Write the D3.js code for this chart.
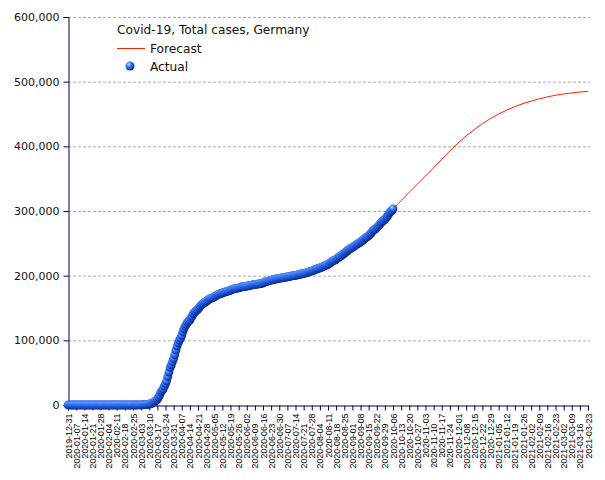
<!DOCTYPE html>
<html>
<head>
<meta charset="utf-8">
<script src="https://cdn.jsdelivr.net/npm/d3@7"></script>
<style>
  html, body { margin: 0; padding: 0; background: #fff; }
  svg { display: block; }
</style>
</head>
<body>
<svg id="chart" width="605" height="480"></svg>
<script>
// ---------- DATA ----------
const titleText = "Covid-19, Total cases, Germany";
const seriesNames = ["Forecast", "Actual"];
const startDate = "2019-12-31";
const endDate = "2021-03-23";
const yTicks = [0, 100000, 200000, 300000, 400000, 500000, 600000];

// Actual total cases, one value per day from 2019-12-31
const actual = [
  // 2019-12-31 .. 2020-01-27
  0,0,0,0,0,0,0,0,0,0,0,0,0,0,0,0,0,0,0,0,0,0,0,0,0,0,0,0,
  // 2020-01-28 .. 2020-02-29
  4,4,4,5,8,10,12,12,12,12,13,13,14,14,16,16,16,16,16,16,16,16,16,16,16,16,16,16,16,18,21,26,53,
  // March
  130,159,196,262,482,670,799,1040,1176,1457,1908,2078,3675,4585,5795,7272,9257,12327,15320,19848,
  22213,24873,29056,32986,37323,43938,50871,57695,62095,66885,71808,
  // April
  77872,84794,91159,96092,100123,103374,107663,113296,118181,122171,124908,127854,130072,131359,134753,
  137698,141397,143342,145184,147065,148291,150648,153129,154999,156513,157770,158758,159912,161539,163009,
  // May
  164077,164967,165664,166152,167007,168162,169430,170588,171324,171879,172576,173171,174098,174478,175233,
  175752,176369,176551,177778,178473,179021,179710,179986,180328,180600,181200,181524,182196,182922,183189,183410,
  // June
  183594,183879,184121,184472,184924,185414,185750,186022,186269,186506,186839,187226,187423,187764,188252,
  188604,189817,190359,190862,191449,191768,192556,193243,193499,194036,194458,194725,195228,195418,195893,
  // July
  196335,196554,196944,197341,197523,197783,198178,198556,198963,199375,199726,199919,200180,200456,200843,
  201252,201786,202345,202572,202735,203325,203881,204448,204964,205609,206242,206926,207112,207828,208546,209453,
  // August
  210399,210670,211281,212022,212828,213067,214214,215336,216196,216327,217293,218519,219964,221413,222828,
  223453,224014,225404,226700,228120,229706,230048,232082,232864,234494,236122,237583,239010,240571,241771,242381,
  // September
  243599,244802,246166,247411,248840,249985,250799,252298,253474,254474,256433,258149,259735,260355,261737,
  263663,265857,267773,270070,271415,272337,274158,275927,278070,280223,282730,284140,285332,287421,289219,
  // October 1..6
  291722,294395,296958,299237,300619,303258
];

// Forecast total cases, one value per week from 2019-12-31 to 2021-03-23
const forecast = [
  0,0,0,0,0,0,0,0,0,0,
  3000,12000,35000,70000,105000,130000,148000,160000,167000,173000,
  177500,181000,184000,186500,189000,192000,195500,198500,201000,204000,
  207500,212000,217500,224500,233000,242500,252000,262000,274000,287500,
  303000,316000,329000,341500,354000,367000,380000,393000,405000,416000,
  426000,435000,443000,450000,456000,461500,466000,470000,473500,476500,
  479000,481000,482500,484000,485000
];

// ---------- CHART ----------
const svg = d3.select("#chart");
const parse = d3.timeParse("%Y-%m-%d");
const fmtDate = d3.timeFormat("%Y-%m-%d");
const t0 = parse(startDate), t1 = parse(endDate);

const weeks = d3.range(forecast.length).map(i => d3.timeDay.offset(t0, i * 7));
const actualData = actual.map((v, i) => ({ date: d3.timeDay.offset(t0, i), value: v }));
const forecastData = forecast.map((v, i) => ({ date: weeks[i], value: v }));

const mLeft = 68, mRight = 588, mTop = 17, mBottom = 405;
const x = d3.scaleTime().domain([t0, t1]).range([mLeft, mRight]);
const y = d3.scaleLinear().domain([0, 600000]).range([mBottom, mTop]);

const defs = svg.append("defs");
const grad = defs.append("radialGradient").attr("id", "ball")
  .attr("cx", "40%").attr("cy", "35%").attr("r", "62%").attr("fx", "35%").attr("fy", "30%");
grad.append("stop").attr("offset", "0%").attr("stop-color", "#d0e4ff");
grad.append("stop").attr("offset", "30%").attr("stop-color", "#5a96ff");
grad.append("stop").attr("offset", "65%").attr("stop-color", "#2460e0");
grad.append("stop").attr("offset", "100%").attr("stop-color", "#0c2c96");

// grid
svg.append("g").selectAll("line").data(yTicks.filter(d => d > 0)).join("line")
  .attr("x1", mLeft).attr("x2", 590)
  .attr("y1", d => y(d) + 0.5).attr("y2", d => y(d) + 0.5)
  .attr("stroke", "#aaaaaa").attr("stroke-width", 1).attr("stroke-dasharray", "3,2");

// Y axis
const yAxis = d3.axisLeft(y).tickValues(yTicks).tickFormat(d3.format(",")).tickSize(5).tickPadding(4);
const gy = svg.append("g").attr("transform", `translate(${mLeft + 0.5},0)`).call(yAxis);
gy.select(".domain").attr("stroke", "#000050");
gy.selectAll(".tick line").attr("stroke", "#000050");
gy.selectAll(".tick text").attr("fill", "#111").style("font-family", "DejaVu Sans, sans-serif").style("font-size", "11px");

// X axis
const xAxis = d3.axisBottom(x).tickValues(weeks).tickFormat(fmtDate).tickSize(5).tickPadding(3).tickSizeOuter(0);
const gx = svg.append("g").attr("transform", `translate(0,${mBottom + 0.5})`).call(xAxis);
gx.select(".domain").attr("stroke", "#000050");
gx.selectAll(".tick line").attr("stroke", "#000050");
gx.selectAll(".tick text")
  .attr("fill", "#000")
  .style("font-family", "Liberation Sans, Arial, sans-serif").style("font-size", "8.8px")
  .attr("transform", "rotate(-90)")
  .attr("text-anchor", "end")
  .attr("x", (d, i) => i % 2 === 0 ? -8 : -18).attr("y", 0).attr("dy", "0.35em");

// forecast line
const line = d3.line().x(d => x(d.date)).y(d => y(d.value)).curve(d3.curveMonotoneX);
svg.append("path").datum(forecastData)
  .attr("d", line).attr("fill", "none").attr("stroke", "#ff2000").attr("stroke-width", 1);

// actual points
svg.append("g").selectAll("circle").data(actualData).join("circle")
  .attr("cx", d => x(d.date)).attr("cy", d => y(d.value)).attr("r", 4.4)
  .attr("fill", "url(#ball)");

// legend
const lg = svg.append("g").style("font-family", "DejaVu Sans, sans-serif").style("font-size", "12.2px").attr("fill", "#111");
lg.append("text").attr("x", 117).attr("y", 34).text(titleText);
lg.append("line").attr("x1", 117).attr("x2", 145).attr("y1", 48.5).attr("y2", 48.5)
  .attr("stroke", "#ff2000").attr("stroke-width", 1);
lg.append("text").attr("x", 150).attr("y", 52.5).text(seriesNames[0]);
lg.append("circle").attr("cx", 130).attr("cy", 66).attr("r", 4.5).attr("fill", "url(#ball)");
lg.append("text").attr("x", 150).attr("y", 70.5).text(seriesNames[1]);
</script>
</body>
</html>
